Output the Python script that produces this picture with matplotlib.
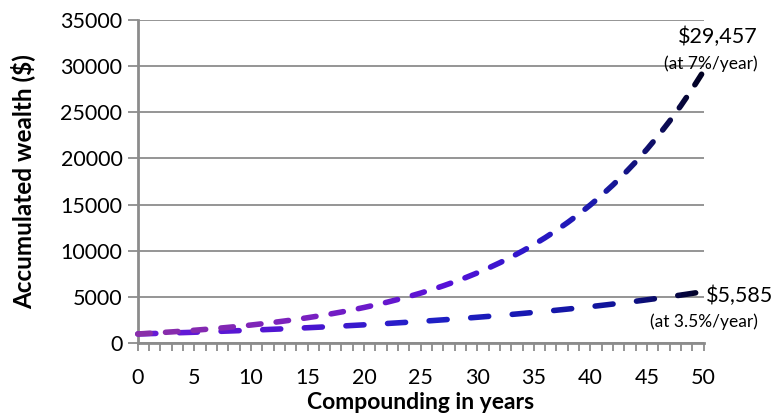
import numpy as np
import matplotlib
matplotlib.use("Agg")
import matplotlib.pyplot as plt
from matplotlib.colors import LinearSegmentedColormap
from matplotlib.patches import Rectangle

plt.rcParams['font.family'] = ['Lato', 'DejaVu Sans']
plt.rcParams['lines.scale_dashes'] = False

years = list(range(51))
wealth_7 = [1000, 1070, 1145, 1225, 1311, 1403, 1501, 1606, 1718, 1838,
            1967, 2105, 2252, 2410, 2579, 2759, 2952, 3159, 3380, 3617,
            3870, 4141, 4430, 4741, 5072, 5427, 5807, 6214, 6649, 7114,
            7612, 8145, 8715, 9325, 9978, 10677, 11424, 12224, 13079, 13995,
            14974, 16023, 17144, 18344, 19628, 21002, 22473, 24046, 25729, 27530,
            29457]
wealth_35 = [1000, 1035, 1071, 1109, 1148, 1188, 1229, 1272, 1317, 1363,
             1411, 1460, 1511, 1564, 1619, 1675, 1734, 1795, 1857, 1923,
             1990, 2059, 2132, 2206, 2283, 2363, 2446, 2532, 2620, 2712,
             2807, 2905, 3007, 3112, 3221, 3334, 3450, 3571, 3696, 3825,
             3959, 4098, 4241, 4390, 4543, 4702, 4867, 5037, 5214, 5396,
             5585]

grad_7 = LinearSegmentedColormap.from_list("g7", [
    (0.0, "#8a2fa8"), (0.3, "#7a20c0"), (0.55, "#5510d8"), (0.7, "#2a18c8"),
    (0.82, "#1a1aa8"), (0.9, "#101070"), (0.96, "#080840"), (1.0, "#000020")])
grad_35 = LinearSegmentedColormap.from_list("g35", [
    (0.0, "#6a1ad8"), (0.3, "#4a14d0"), (0.5, "#2020c8"), (0.7, "#1818b0"),
    (0.85, "#101498"), (0.93, "#0a0a60"), (1.0, "#000020")])

fig = plt.figure(figsize=(7.74, 4.15), dpi=100)
ax = fig.add_axes([0.178, 0.173, 0.731, 0.779])


def gradient_dashed(x, y, cmap, dashes, lw):
    # same dashed path drawn once per narrow x band, each band in its own colour
    edges = np.linspace(-1, 51, 105)
    for lo, hi in zip(edges[:-1], edges[1:]):
        c = cmap(np.clip((0.5 * (lo + hi)) / 50, 0, 1))
        ln, = ax.plot(x, y, color=c, lw=lw, dashes=dashes,
                      dash_capstyle='round', solid_capstyle='round', zorder=3)
        ln.set_clip_path(Rectangle((lo, -5000), hi - lo, 50000,
                                   transform=ax.transData))


gradient_dashed(years, wealth_35, grad_35, (13.0, 17.0), 4.0)
gradient_dashed(years, wealth_7, grad_7, (9.0, 11.0), 4.0)

ax.set_xlim(0, 50)
ax.set_ylim(0, 35000)
ax.set_xticks(range(0, 51, 5))
ax.set_xticks(range(0, 51), minor=True)
ax.set_yticks(range(0, 35001, 5000))

grey = "#8c8c8c"
ax.yaxis.grid(True, color=grey, lw=1.3)
ax.set_axisbelow(True)
for s in ["top", "right"]:
    ax.spines[s].set_visible(False)
for s in ["left", "bottom"]:
    ax.spines[s].set_color(grey)
    ax.spines[s].set_linewidth(2)
ax.tick_params(axis='y', length=7, width=1.3, color=grey, labelsize=15.5, pad=4)
ax.tick_params(axis='x', which='both', length=6, width=1.3, color=grey,
               labelsize=15.5, pad=12)

ax.set_xlabel("Compounding in years", fontsize=16.5, fontweight='bold', labelpad=3)
ax.set_ylabel("Accumulated wealth ($)", fontsize=17.5, fontweight='bold', labelpad=18)

ax.text(1.096, 0.946, "$29,457", transform=ax.transAxes, fontsize=15.5,
        ha='right', va='center')
ax.text(1.096, 0.864, "(at 7%/year)", transform=ax.transAxes, fontsize=12.5,
        ha='right', va='center')
ax.text(1.004, 0.146, "$5,585", transform=ax.transAxes, fontsize=15.5,
        ha='left', va='center')
ax.text(1.096, 0.066, "(at 3.5%/year)", transform=ax.transAxes, fontsize=12.5,
        ha='right', va='center')

fig.savefig("out.png", dpi=100)
